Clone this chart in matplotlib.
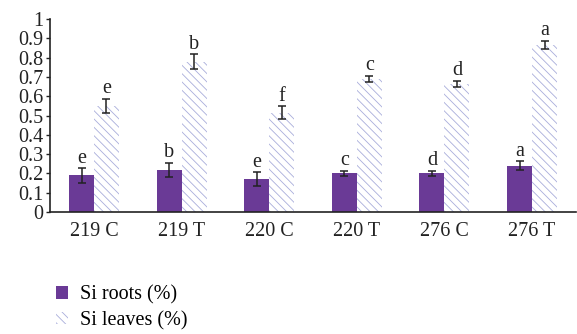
import matplotlib.pyplot as plt
import numpy as np

plt.rcParams['font.family'] = ['Liberation Serif', 'DejaVu Serif']
plt.rcParams['hatch.linewidth'] = 0.6

# Si content per cultivar/treatment
groups = ['219 C', '219 T', '220 C', '220 T', '276 C', '276 T']
roots = [0.19, 0.22, 0.17, 0.20, 0.20, 0.24]
roots_err = [0.038, 0.036, 0.036, 0.015, 0.015, 0.023]
roots_letters = ['e', 'b', 'e', 'c', 'd', 'a']
leaves = [0.55, 0.78, 0.515, 0.69, 0.665, 0.865]
leaves_err = [0.037, 0.037, 0.035, 0.016, 0.016, 0.022]
leaves_letters = ['e', 'b', 'f', 'c', 'd', 'a']

purple = '#6a3a96'
hatch_col = '#a9addb'
fs = 14.5

fig = plt.figure(figsize=(5.77, 3.34), dpi=100)
ax = fig.add_axes([0.087, 0.365, 0.911, 0.578])

x = np.arange(len(groups))
w = 0.285
ax.bar(x - w/2, roots, w, color=purple, linewidth=0, label='Si roots (%)')
ax.bar(x + w/2, leaves, w, facecolor='white', edgecolor=hatch_col, linewidth=0,
       hatch='\\\\\\\\', label='Si leaves (%)')
ax.errorbar(x - w/2, roots, yerr=roots_err, fmt='none', ecolor='#222222',
            elinewidth=1.1, capsize=3.2, capthick=1.1)
ax.errorbar(x + w/2, leaves, yerr=leaves_err, fmt='none', ecolor='#222222',
            elinewidth=1.1, capsize=3.2, capthick=1.1)

for xi, v, e, t in zip(x - w/2, roots, roots_err, roots_letters):
    ax.text(xi, v + e + 0.002, t, ha='center', va='bottom', fontsize=fs, color='#222222')
for xi, v, e, t in zip(x + w/2, leaves, leaves_err, leaves_letters):
    ax.text(xi, v + e + 0.002, t, ha='center', va='bottom', fontsize=fs, color='#222222')

ax.set_xlim(-0.5, len(groups) - 0.5)
ax.set_ylim(0, 1)
ax.set_yticks(np.arange(0, 1.01, 0.1))
ax.set_yticklabels(['0', '0.1', '0.2', '0.3', '0.4', '0.5', '0.6', '0.7', '0.8', '0.9', '1'])
ax.set_xticks(x)
ax.set_xticklabels(groups)
ax.tick_params(axis='y', length=3, width=1, pad=2, labelsize=fs, colors='#222222')
ax.tick_params(axis='x', length=0, pad=7, labelsize=fs, colors='#222222')
for s in ['top', 'right']:
    ax.spines[s].set_visible(False)
for s in ['left', 'bottom']:
    ax.spines[s].set_color('#222222')
    ax.spines[s].set_linewidth(1.2)

fig.legend(loc='upper left', bbox_to_anchor=(0.097, 0.145), frameon=False,
           fontsize=fs, handlelength=0.6, handleheight=0.6, handletextpad=0.6,
           labelspacing=0.3, borderaxespad=0, borderpad=0)

fig.savefig('out.png', dpi=100)
